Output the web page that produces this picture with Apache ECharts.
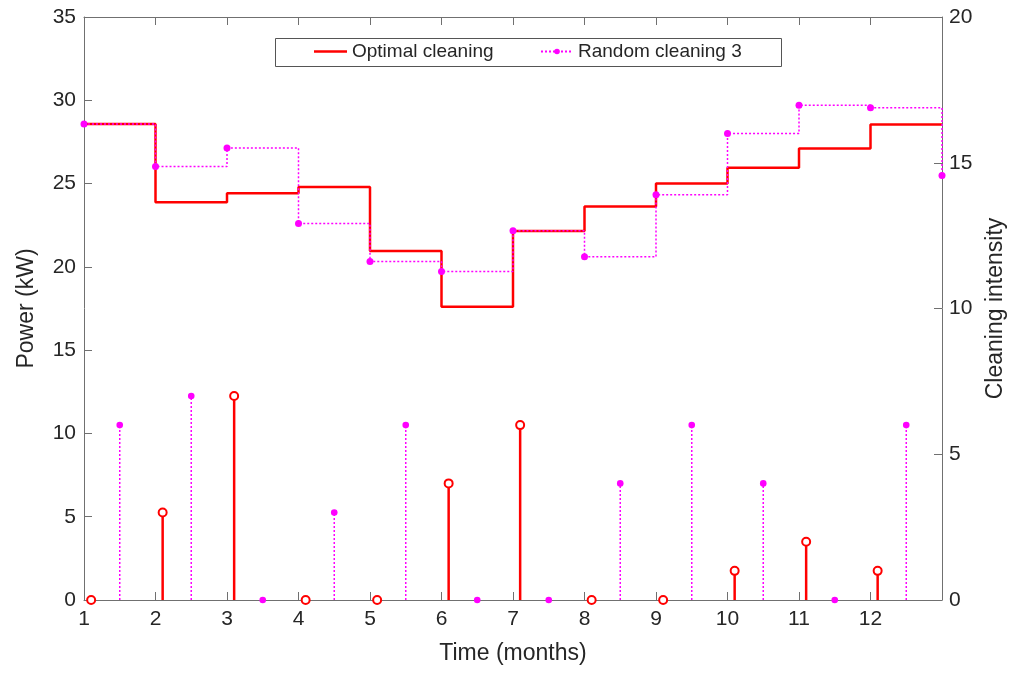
<!DOCTYPE html>
<html>
<head>
<meta charset="utf-8">
<script src="https://cdn.jsdelivr.net/npm/echarts@6/dist/echarts.min.js"></script>
<style>
  html, body { margin: 0; padding: 0; background: #fff; }
  #chart { width: 1012px; height: 675px; }
</style>
</head>
<body>
<div id="chart"></div>
<script>
// Monthly power output (kW) for each cleaning schedule, stairs style (value holds until next month)
const stepMonths = [1, 2, 3, 4, 5, 6, 7, 8, 9, 10, 11, 12, 13];
const optimalPower = [28.57, 23.88, 24.42, 24.80, 20.95, 17.60, 22.15, 23.62, 25.00, 25.95, 27.10, 28.55, 28.55];
const randomPower  = [28.57, 26.02, 27.14, 22.60, 20.32, 19.72, 22.17, 20.60, 24.33, 28.00, 29.70, 29.55, 25.49];

// Cleaning intensity applied in each month (right axis)
const cleanMonths = [1, 2, 3, 4, 5, 6, 7, 8, 9, 10, 11, 12];
const optimalIntensity = [0, 3, 7, 0, 0, 4, 6, 0, 0, 1, 2, 1];
const randomIntensity  = [6, 7, 0, 3, 6, 0, 0, 4, 6, 4, 0, 6];

// Axis ticks
const xTicks = [1, 2, 3, 4, 5, 6, 7, 8, 9, 10, 11, 12];
const powerTicks = [0, 5, 10, 15, 20, 25, 30, 35];
const intensityTicks = [0, 5, 10, 15, 20];

const FONT = 'Liberation Sans';
const TEXT = '#262626';
const AXIS = '#707070';
const RED = '#ff0000';
const MAGENTA = '#ff00ff';

const optimalOffset = 0.1;
const randomOffset = 0.5;

// Stem: vertical line from zero to the value, with a marker on top
function stemRenderer(color, dashed, hollow) {
  return function (params, api) {
    const x = api.value(0);
    const v = api.value(1);
    const base = api.coord([x, 0]);
    const top = api.coord([x, v]);
    const r = hollow ? 4 : 3.3;
    const children = [];
    if (v > 0) {
      children.push({
        type: 'line',
        shape: { x1: base[0], y1: base[1], x2: top[0], y2: top[1] + (hollow ? r : 0) },
        style: { stroke: color, lineWidth: dashed ? 1.5 : 2.5, lineDash: dashed ? [2, 2] : null }
      });
    }
    children.push({
      type: 'circle',
      shape: { cx: top[0], cy: top[1], r: r },
      style: hollow ? { fill: '#fff', stroke: color, lineWidth: 2 } : { fill: color, stroke: null }
    });
    return { type: 'group', children: children };
  };
}

const chart = echarts.init(document.getElementById('chart'), null, { renderer: 'canvas' });

const tickLabelStyle = { color: TEXT, fontFamily: FONT, fontSize: 21 };
const axisNameStyle = { color: TEXT, fontFamily: FONT, fontSize: 23 };
const legendText = { color: TEXT, fontFamily: FONT, fontSize: 19 };

chart.setOption({
  animation: false,
  backgroundColor: '#fff',
  grid: { left: 84, top: 17, right: 70, bottom: 75, containLabel: false, outerBoundsMode: 'none' },
  graphic: [{
    type: 'rect',
    left: 275, top: 38,
    shape: { width: 506, height: 28 },
    style: { fill: '#fff', stroke: '#555', lineWidth: 1 },
    z: 1
  }],
  legend: [
    {
      left: 314, top: 42, padding: 0,
      itemWidth: 33, itemHeight: 2.5, itemGap: 0,
      textStyle: legendText,
      data: [{ name: 'Optimal cleaning', icon: 'rect' }],
      z: 5
    },
    {
      left: 540, top: 42, padding: 0,
      itemWidth: 32, itemHeight: 7, itemGap: 0,
      textStyle: legendText,
      data: ['Random cleaning 3'],
      z: 5
    }
  ],
  xAxis: [
    {
      type: 'value', min: 1, max: 13, interval: 1,
      name: 'Time (months)', nameLocation: 'middle', nameGap: 42,
      nameTextStyle: axisNameStyle,
      axisLine: { show: true, onZero: false, lineStyle: { color: AXIS, width: 1 } },
      axisTick: { inside: true, length: 8, lineStyle: { color: AXIS } },
      axisLabel: Object.assign({ margin: 9, formatter: v => xTicks.includes(v) ? String(v) : '' }, tickLabelStyle),
      splitLine: { show: false }
    },
    {
      type: 'value', min: 1, max: 13, interval: 1, position: 'top',
      axisLine: { show: true, onZero: false, lineStyle: { color: AXIS, width: 1 } },
      axisTick: { inside: true, length: 8, lineStyle: { color: AXIS } },
      axisLabel: { show: false },
      splitLine: { show: false }
    }
  ],
  yAxis: [
    {
      type: 'value', min: powerTicks[0], max: powerTicks[powerTicks.length - 1], interval: 5,
      name: 'Power (kW)', nameLocation: 'middle', nameGap: 46, nameRotate: 90,
      nameTextStyle: axisNameStyle,
      axisLine: { show: true, onZero: false, lineStyle: { color: AXIS, width: 1 } },
      axisTick: { inside: true, length: 8, lineStyle: { color: AXIS } },
      axisLabel: Object.assign({ margin: 8 }, tickLabelStyle),
      splitLine: { show: false }
    },
    {
      type: 'value', min: intensityTicks[0], max: intensityTicks[intensityTicks.length - 1], interval: 5,
      position: 'right',
      name: 'Cleaning intensity', nameLocation: 'middle', nameGap: 42, nameRotate: 90,
      nameTextStyle: axisNameStyle,
      axisLine: { show: true, onZero: false, lineStyle: { color: AXIS, width: 1 } },
      axisTick: { inside: true, length: 8, lineStyle: { color: AXIS } },
      axisLabel: Object.assign({ margin: 7 }, tickLabelStyle),
      splitLine: { show: false }
    }
  ],
  series: [
    {
      name: 'Optimal cleaning',
      type: 'line', step: 'end', xAxisIndex: 0, yAxisIndex: 0,
      data: stepMonths.map((m, i) => [m, optimalPower[i]]),
      symbol: 'none',
      lineStyle: { color: RED, width: 2.5 },
      itemStyle: { color: RED },
      z: 3
    },
    {
      name: 'Random cleaning 3',
      type: 'line', step: 'end', xAxisIndex: 0, yAxisIndex: 0,
      data: stepMonths.map((m, i) => [m, randomPower[i]]),
      symbol: 'circle', symbolSize: 7, showAllSymbol: true,
      lineStyle: { color: MAGENTA, width: 1.5, type: [2, 2] },
      itemStyle: { color: MAGENTA, borderWidth: 0 },
      z: 4
    },
    {
      name: 'Optimal cleaning stems',
      type: 'custom', xAxisIndex: 0, yAxisIndex: 1,
      data: cleanMonths.map((m, i) => [m + optimalOffset, optimalIntensity[i]]),
      renderItem: stemRenderer(RED, false, true),
      clip: false,
      z: 3
    },
    {
      name: 'Random cleaning stems',
      type: 'custom', xAxisIndex: 0, yAxisIndex: 1,
      data: cleanMonths.map((m, i) => [m + randomOffset, randomIntensity[i]]),
      renderItem: stemRenderer(MAGENTA, true, false),
      clip: false,
      z: 4
    }
  ]
});
</script>
</body>
</html>
